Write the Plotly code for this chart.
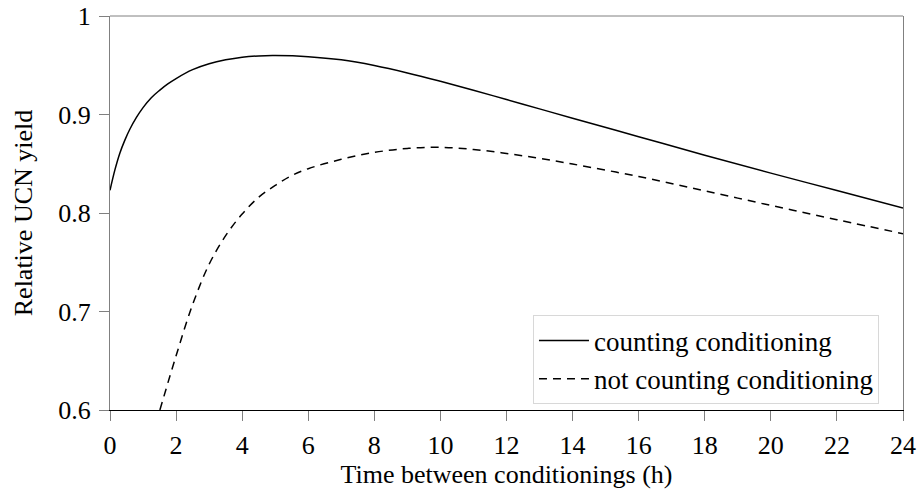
import plotly.graph_objects as go

# Solid curve: counting conditioning
t_count = [0, 0.15, 0.3, 0.45, 0.6, 0.8, 1.0, 1.25, 1.5, 1.75, 2.0, 2.5, 3.0, 3.5,
           4.0, 4.5, 5.0, 6.0, 7.0, 8.0, 9.0, 10.0, 11.0, 12.0, 13.0, 14.0,
           16.0, 18.0, 20.0, 22.0, 24.0]
y_count = [0.823, 0.844, 0.861, 0.874, 0.885, 0.897, 0.907, 0.917, 0.9245, 0.931,
           0.9365, 0.9455, 0.9515, 0.9555, 0.9582, 0.9595, 0.9598, 0.9587, 0.9555,
           0.9497, 0.9422, 0.9337, 0.9247, 0.9152, 0.9057, 0.8962, 0.8775, 0.8587,
           0.8405, 0.8228, 0.8050]

# Dashed curve: not counting conditioning
t_nocount = [1.51, 2.0, 2.5, 3.0, 3.5, 4.0, 4.5, 5.0, 5.5, 6.0, 7.0, 8.0, 9.0,
             10.0, 11.0, 12.0, 13.0, 14.0, 16.0, 18.0, 20.0, 22.0, 24.0]
y_nocount = [0.600, 0.655, 0.707, 0.748, 0.777, 0.799, 0.816, 0.828, 0.838, 0.845,
             0.8545, 0.8615, 0.8655, 0.8667, 0.8645, 0.8605, 0.8555, 0.8497, 0.8370,
             0.8225, 0.8077, 0.7932, 0.7790]

x_ticks = [0, 2, 4, 6, 8, 10, 12, 14, 16, 18, 20, 22, 24]
y_ticks = [0.6, 0.7, 0.8, 0.9, 1]

FONT = '"Liberation Serif", "Times New Roman", Times, serif'

fig = go.Figure()
fig.add_trace(go.Scatter(x=t_count, y=y_count, mode="lines",
                         name="counting conditioning",
                         line=dict(color="black", width=1.5, shape="spline", smoothing=1)))
fig.add_trace(go.Scatter(x=t_nocount, y=y_nocount, mode="lines",
                         name="not counting conditioning",
                         line=dict(color="black", width=1.5, dash="8px,6px",
                                   shape="spline", smoothing=1)))

fig.update_layout(
    width=917, height=490,
    margin=dict(l=110, r=14, t=16, b=80, autoexpand=False),
    paper_bgcolor="white", plot_bgcolor="white",
    font=dict(family=FONT, size=26, color="black"),
    showlegend=True,
    legend=dict(x=0.9697, y=0.014, xanchor="right", yanchor="bottom",
                bgcolor="white", bordercolor="#d8d8d8", borderwidth=1,
                font=dict(family=FONT, size=27, color="black"),
                itemwidth=50, tracegroupgap=0),
    xaxis=dict(range=[0, 24], tickvals=x_ticks, ticks="outside", ticklen=10,
               tickcolor="#808080", tickwidth=1, automargin=False,
               ticklabelstandoff=2,
               showline=True, linecolor="black", linewidth=1, mirror=False,
               showgrid=False, zeroline=False,
               title=dict(text="Time between conditionings (h)", standoff=0,
                          font=dict(family=FONT, size=26)),
               tickfont=dict(family=FONT, size=26)),
    yaxis=dict(range=[0.6, 1], tickvals=y_ticks, ticks="outside", ticklen=10,
               tickcolor="#808080", tickwidth=1, automargin=False,
               ticklabelstandoff=3,
               showline=True, linecolor="#808080", linewidth=1, mirror=True,
               showgrid=False, zeroline=False,
               title=dict(text="Relative UCN yield", standoff=18,
                          font=dict(family=FONT, size=26)),
               tickfont=dict(family=FONT, size=26)),
    shapes=[dict(type="line", xref="paper", yref="paper", x0=0, x1=1, y0=1, y1=1,
                 line=dict(color="#808080", width=1))],
)

fig.write_html("out.html")
